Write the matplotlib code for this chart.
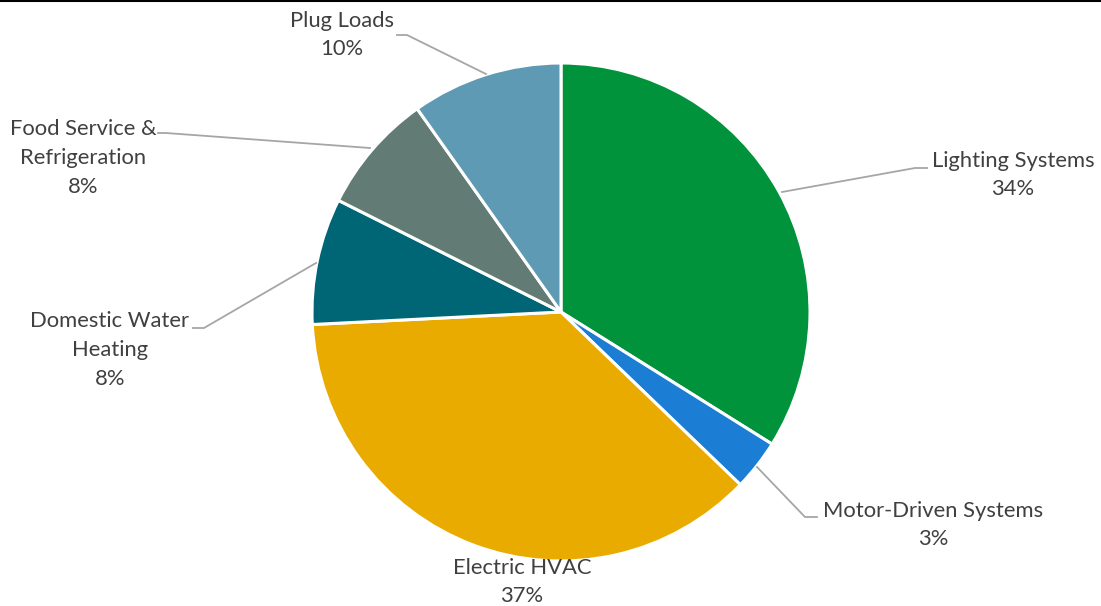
import matplotlib.pyplot as plt
from matplotlib.lines import Line2D

# slice data, clockwise from 12 o'clock
categories = ["Lighting Systems", "Motor-Driven Systems", "Electric HVAC",
              "Domestic Water\nHeating", "Food Service &\nRefrigeration", "Plug Loads"]
shares = [33.9, 3.3, 37.0, 8.2, 7.8, 9.8]
pct_labels = ["34%", "3%", "37%", "8%", "8%", "10%"]
colors = ["#00933B", "#1B7DD3", "#EAAB00", "#006574", "#627B74", "#5F9AB4"]

W, H = 1101, 606
# label layout in pixel coords (x, y from top)
label_pos = [(1013, 175), (933, 525), (522, 582), (110, 350), (83, 158), (342, 35)]
leaders = [
    [(927, 168), (915, 168), (782, 192)],
    [(817, 517), (805, 517), (757, 467)],
    [],
    [(193, 328), (204, 328), (316, 263)],
    [(158, 133), (166, 133), (370, 148)],
    [(397, 35), (407, 35), (486, 74)],
]

fig = plt.figure(figsize=(W / 100, H / 100), dpi=100)
ax = fig.add_axes([0, 0, 1, 1])
ax.pie(shares, colors=colors, startangle=90, counterclock=False,
       center=(561, H - 312), radius=249,
       wedgeprops=dict(edgecolor="white", linewidth=2.2))
ax.set_xlim(0, W)
ax.set_ylim(0, H)
ax.set_aspect("equal")
ax.axis("off")

for name, pct, (x, y), pts in zip(categories, pct_labels, label_pos, leaders):
    ax.text(x, H - y, name + "\n" + pct, ha="center", va="center",
            fontsize=15.8, family=["Lato", "DejaVu Sans"], color="#404040",
            linespacing=1.55)
    if pts:
        ax.plot([p[0] for p in pts], [H - p[1] for p in pts],
                color="#A6A6A6", lw=1.3)

# thin rule along the top edge
fig.add_artist(Line2D([0, 1], [0.998, 0.998], color="black", lw=1.5,
                      transform=fig.transFigure))

fig.savefig("out.png", dpi=100)
